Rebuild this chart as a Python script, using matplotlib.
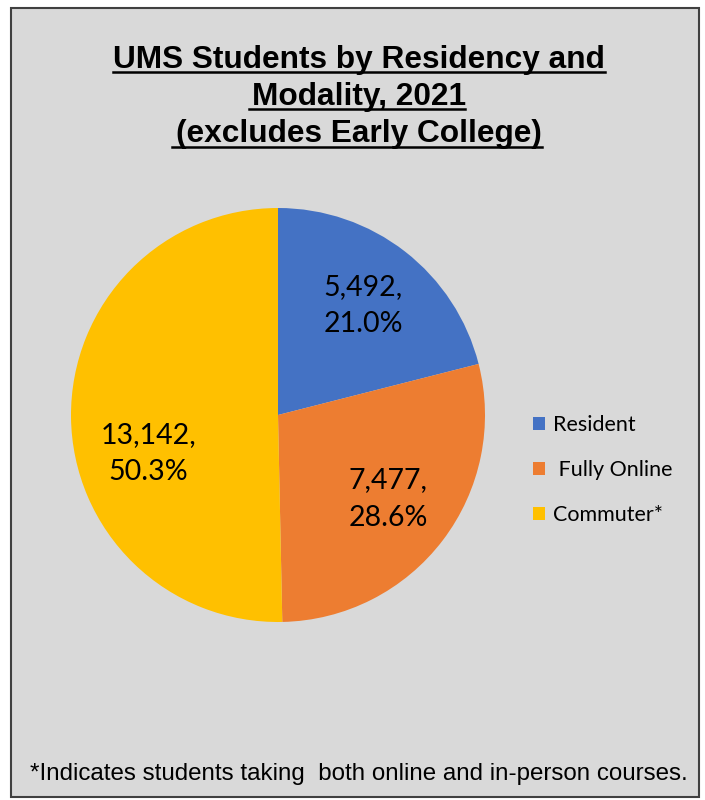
import matplotlib.pyplot as plt
from matplotlib.patches import Rectangle

# data
labels = ["Resident", " Fully Online", "Commuter*"]
counts = [5492, 7477, 13142]
colors = ["#4472C4", "#ED7D31", "#FFC000"]

title = "UMS Students by Residency and\nModality, 2021\n(excludes Early College)"
note = "*Indicates students taking  both online and in-person courses."

W, H = 705, 800
fig = plt.figure(figsize=(W / 100, H / 100), dpi=100)
fig.patch.set_facecolor("white")

# gray chart area with black frame
fig.patches.append(Rectangle((11 / W, 1 - 797 / H), 688 / W, 789 / H,
                             transform=fig.transFigure, facecolor="#D9D9D9",
                             edgecolor="#404040", linewidth=1.5, zorder=-5))

# pie: center (278, 415), radius 207 px
r = 207
ax = fig.add_axes([(278 - r) / W, 1 - (415 + r) / H, 2 * r / W, 2 * r / H])
ax.set_zorder(2)
ax.set_facecolor("none")
total = sum(counts)


def fmt(p):
    n = round(p * total / 100)
    return f"{n:,},\n{p:.1f}%"


wedges, _, autotexts = ax.pie(counts, colors=colors, startangle=90, counterclock=False,
                              autopct=fmt, pctdistance=0.67, radius=1.0,
                              wedgeprops=dict(linewidth=0),
                              textprops=dict(fontsize=20.5, family=["Lato", "DejaVu Sans"],
                                             linespacing=1.55))
ax.set_xlim(-1, 1)
ax.set_ylim(-1, 1)
ax.set_aspect("equal")
ax.axis("off")
# commuter label sits lower than the slice middle
x, y = autotexts[2].get_position()
autotexts[2].set_position((x + 0.043, y - 0.18))

# title
fig.text(359 / W, 1 - 97 / H, title, ha="center", va="center", fontsize=22.8,
         fontweight="bold", family=["Liberation Sans Narrow", "Liberation Sans"],
         linespacing=1.3, zorder=3)
# underlines
for y0, x0, x1 in [(72, 113, 605), (109, 249, 465), (147, 172, 542)]:
    fig.add_artist(plt.Line2D([x0 / W, x1 / W], [1 - y0 / H, 1 - y0 / H],
                              color="black", linewidth=1.8, zorder=3))

# legend
leg = fig.legend(wedges, labels, loc="center left", bbox_to_anchor=(514 / W, 1 - 470 / H),
                 frameon=False, handlelength=0.55, handleheight=0.55,
                 handletextpad=0.35, labelspacing=1.15,
                 prop=dict(family=["Lato", "DejaVu Sans"], size=15.5))

# footnote
fig.text(359 / W, 1 - 774 / H, note, ha="center", va="center", fontsize=17.4,
         family=["Liberation Sans Narrow", "Liberation Sans"], zorder=3)

fig.savefig("out.png", dpi=100)
